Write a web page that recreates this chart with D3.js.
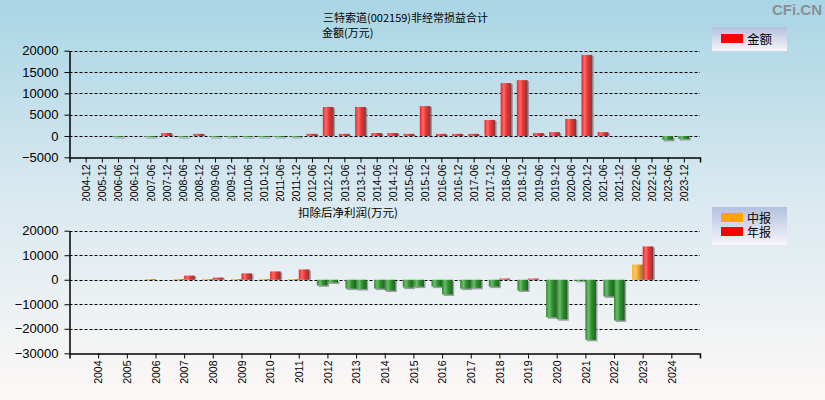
<!DOCTYPE html>
<html>
<head>
<meta charset="utf-8">
<script src="https://cdn.jsdelivr.net/npm/d3@7"></script>
<style>
  body { margin: 0; padding: 0; }
  svg { display: block; }
  text { font-family: "Liberation Sans", Arial, sans-serif; }
  .cjk { font-family: "Noto Sans CJK SC", sans-serif; }
</style>
</head>
<body>
<div id="chart"></div>
<script>
// top chart: 非经常损益合计 (万元)
var periods = ["2004-12","2005-12","2006-06","2006-12","2007-06","2007-12","2008-06","2008-12",
  "2009-06","2009-12","2010-06","2010-12","2011-06","2011-12","2012-06","2012-12","2013-06",
  "2013-12","2014-06","2014-12","2015-06","2015-12","2016-06","2016-12","2017-06","2017-12",
  "2018-06","2018-12","2019-06","2019-12","2020-06","2020-12","2021-06","2021-12","2022-06",
  "2022-12","2023-06","2023-12"];
var amount = [null, null, -150, null, -150, 700, -150, 500,
  -150, -150, -150, -150, -150, -150, 500, 6800, 500,
  6800, 700, 700, 500, 7000, 500, 500, 500, 3750,
  12400, 13100, 700, 900, 4000, 19000, 900, null, null,
  null, -900, -700];
var topTicks = [20000, 15000, 10000, 5000, 0, -5000];

// bottom chart: 扣除后净利润 (万元)
var years = ["2004","2005","2006","2007","2008","2009","2010","2011","2012","2013","2014",
  "2015","2016","2017","2018","2019","2020","2021","2022","2023","2024"];
var midReport = [null, null, 300, 300, 300, 300, 300, 300, -2300, -3600, -3600,
  -3200, -2800, -3600, -2800, -4400, -15300, -300, -6800, 6200, null];
var yearReport = [null, null, null, 1700, 900, 2600, 3400, 4200, -1100, -3800, -4400,
  -2800, -6000, -3300, 500, 500, -16100, -24500, -16600, 13600, null];
var bottomTicks = [20000, 10000, 0, -10000, -20000, -30000];

var width = 825, height = 400;
var left = 69.5, right = 700;

var svg = d3.select("#chart").append("svg")
  .attr("width", width)
  .attr("height", height);

var defs = svg.append("defs");

function linGrad(id, stops, vertical) {
  var g = defs.append("linearGradient").attr("id", id)
    .attr("x1", 0).attr("y1", 0)
    .attr("x2", vertical ? 0 : 1).attr("y2", vertical ? 1 : 0);
  stops.forEach(function(s) {
    g.append("stop").attr("offset", s[0]).attr("stop-color", s[1]);
  });
}
linGrad("bg", [["0%", "#a9d5e5"], ["50%", "#dae9f0"], ["100%", "#fdf8f6"]], true);
linGrad("legbg", [["0%", "#b3c1df"], ["100%", "#f6f5f9"]], true);
linGrad("gRed", [["0%", "#f22222"], ["30%", "#ff6a6a"], ["55%", "#ee3434"], ["100%", "#7e3b3b"]]);
linGrad("gGreen", [["0%", "#2c8a2c"], ["30%", "#6cbc6c"], ["55%", "#2f962f"], ["100%", "#235f23"]]);
linGrad("gOrange", [["0%", "#ffae2a"], ["30%", "#ffc862"], ["55%", "#f0a832"], ["100%", "#95773a"]]);

defs.append("clipPath").attr("id", "topclip")
  .append("rect").attr("x", 0).attr("y", 0).attr("width", width).attr("height", 201);

svg.append("rect").attr("width", width).attr("height", height).attr("fill", "url(#bg)");

// watermark
svg.append("text")
  .attr("x", 822).attr("y", 15)
  .attr("text-anchor", "end")
  .style("font-size", "15px")
  .style("font-weight", "bold")
  .attr("fill", "#8a8f94")
  .text("CFi.CN");

function drawGrid(g, y, ticks) {
  g.selectAll(".grid").data(ticks).enter()
    .append("line")
    .attr("x1", left).attr("x2", right)
    .attr("y1", d => Math.round(y(d)) + 0.5)
    .attr("y2", d => Math.round(y(d)) + 0.5)
    .attr("stroke", "#000")
    .attr("stroke-width", 1)
    .attr("stroke-dasharray", "3,2");
}

function drawBar(g, x0, w, y, v, fill) {
  var y0 = y(0);
  var yv = y(v);
  var top = Math.min(y0, yv);
  var h = Math.max(1, Math.abs(yv - y0));
  // shadow
  g.append("rect")
    .attr("x", x0 + 1.5).attr("y", v < 0 ? top + 1.5 : top + 1)
    .attr("width", w).attr("height", v < 0 ? h : h - 1)
    .attr("fill", "#7d8588").attr("opacity", 0.75);
  g.append("rect")
    .attr("x", x0).attr("y", top)
    .attr("width", w).attr("height", h)
    .attr("fill", fill);
}

function styleAxis(ax, fs) {
  ax.select(".domain").attr("stroke", "#000").attr("stroke-width", 1.5);
  ax.selectAll(".tick line").attr("stroke", "#000");
  ax.selectAll("text").attr("fill", "#000")
    .style("font-family", "'Liberation Sans', Arial, sans-serif")
    .style("font-size", fs);
}

// ---------- top chart ----------
var topG = svg.append("g").attr("clip-path", "url(#topclip)");

var x1 = d3.scalePoint().domain(periods).range([left, right]).padding(1);
var y1 = d3.scaleLinear().domain([-5000, 20000]).range([157.3, 50.7]);

drawGrid(topG, y1, topTicks.filter(d => d !== -5000));

var bw1 = 10.7;
periods.forEach(function(p, i) {
  var v = amount[i];
  if (v === null) return;
  drawBar(topG, x1(p) - bw1 / 2, bw1, y1, v, v >= 0 ? "url(#gRed)" : "url(#gGreen)");
});

var ay1 = topG.append("g")
  .attr("transform", "translate(" + left + ",0)")
  .call(d3.axisLeft(y1).tickValues(topTicks).tickSize(5).tickSizeOuter(0).tickPadding(6).tickFormat(d3.format("d")));
styleAxis(ay1, "13px");

var ax1 = topG.append("g")
  .attr("transform", "translate(0," + (Math.round(y1(-5000)) + 0.5) + ")")
  .call(d3.axisBottom(x1).tickSize(5));
styleAxis(ax1, "10.5px");
ax1.selectAll(".tick text")
  .attr("transform", "rotate(-90)")
  .attr("text-anchor", "end")
  .attr("x", -7).attr("y", 0).attr("dy", "0.35em");

topG.append("text").attr("class", "cjk")
  .attr("x", 323).attr("y", 22)
  .style("font-size", "11px")
  .text("三特索道(002159)非经常损益合计");
topG.append("text").attr("class", "cjk")
  .attr("x", 322).attr("y", 37)
  .style("font-size", "11px")
  .text("金额(万元)");

// top legend
var leg1 = svg.append("g").attr("transform", "translate(712,27)");
leg1.append("rect").attr("width", 75).attr("height", 24).attr("fill", "url(#legbg)");
leg1.append("rect").attr("x", 9).attr("y", 7).attr("width", 22).attr("height", 9).attr("fill", "#ff0000");
leg1.append("text").attr("class", "cjk").attr("x", 35).attr("y", 17).style("font-size", "12.5px").text("金额");

// ---------- bottom chart ----------
var botG = svg.append("g");
var x2 = d3.scalePoint().domain(years).range([left, right]).padding(1);
var y2 = d3.scaleLinear().domain([-30000, 20000]).range([353.3, 230.7]);

drawGrid(botG, y2, bottomTicks.filter(d => d !== -30000));

var bw2 = 10.6;
years.forEach(function(yr, i) {
  var m = midReport[i], a = yearReport[i];
  var cx = x2(yr);
  if (m !== null) drawBar(botG, cx - bw2, bw2, y2, m, m >= 0 ? "url(#gOrange)" : "url(#gGreen)");
  if (a !== null) drawBar(botG, cx, bw2, y2, a, a >= 0 ? "url(#gRed)" : "url(#gGreen)");
});

var ay2 = botG.append("g")
  .attr("transform", "translate(" + left + ",0)")
  .call(d3.axisLeft(y2).tickValues(bottomTicks).tickSize(5).tickSizeOuter(0).tickPadding(6).tickFormat(d3.format("d")));
styleAxis(ay2, "13px");

var ax2 = botG.append("g")
  .attr("transform", "translate(0," + (Math.round(y2(-30000)) + 0.5) + ")")
  .call(d3.axisBottom(x2).tickSize(5));
styleAxis(ax2, "10.5px");
ax2.selectAll(".tick text")
  .attr("transform", "rotate(-90)")
  .attr("text-anchor", "end")
  .attr("x", -7).attr("y", 0).attr("dy", "0.35em");

botG.append("text").attr("class", "cjk")
  .attr("x", 298).attr("y", 217)
  .style("font-size", "11.5px")
  .text("扣除后净利润(万元)");

// bottom legend
var leg2 = svg.append("g").attr("transform", "translate(712,207)");
leg2.append("rect").attr("width", 75).attr("height", 38).attr("fill", "url(#legbg)");
leg2.append("rect").attr("x", 9).attr("y", 6).attr("width", 22).attr("height", 9).attr("fill", "#ffa500");
leg2.append("text").attr("class", "cjk").attr("x", 35).attr("y", 15.5).style("font-size", "12px").text("中报");
leg2.append("rect").attr("x", 9).attr("y", 20).attr("width", 22).attr("height", 9).attr("fill", "#ff0000");
leg2.append("text").attr("class", "cjk").attr("x", 35).attr("y", 29.5).style("font-size", "12px").text("年报");
</script>
</body>
</html>
